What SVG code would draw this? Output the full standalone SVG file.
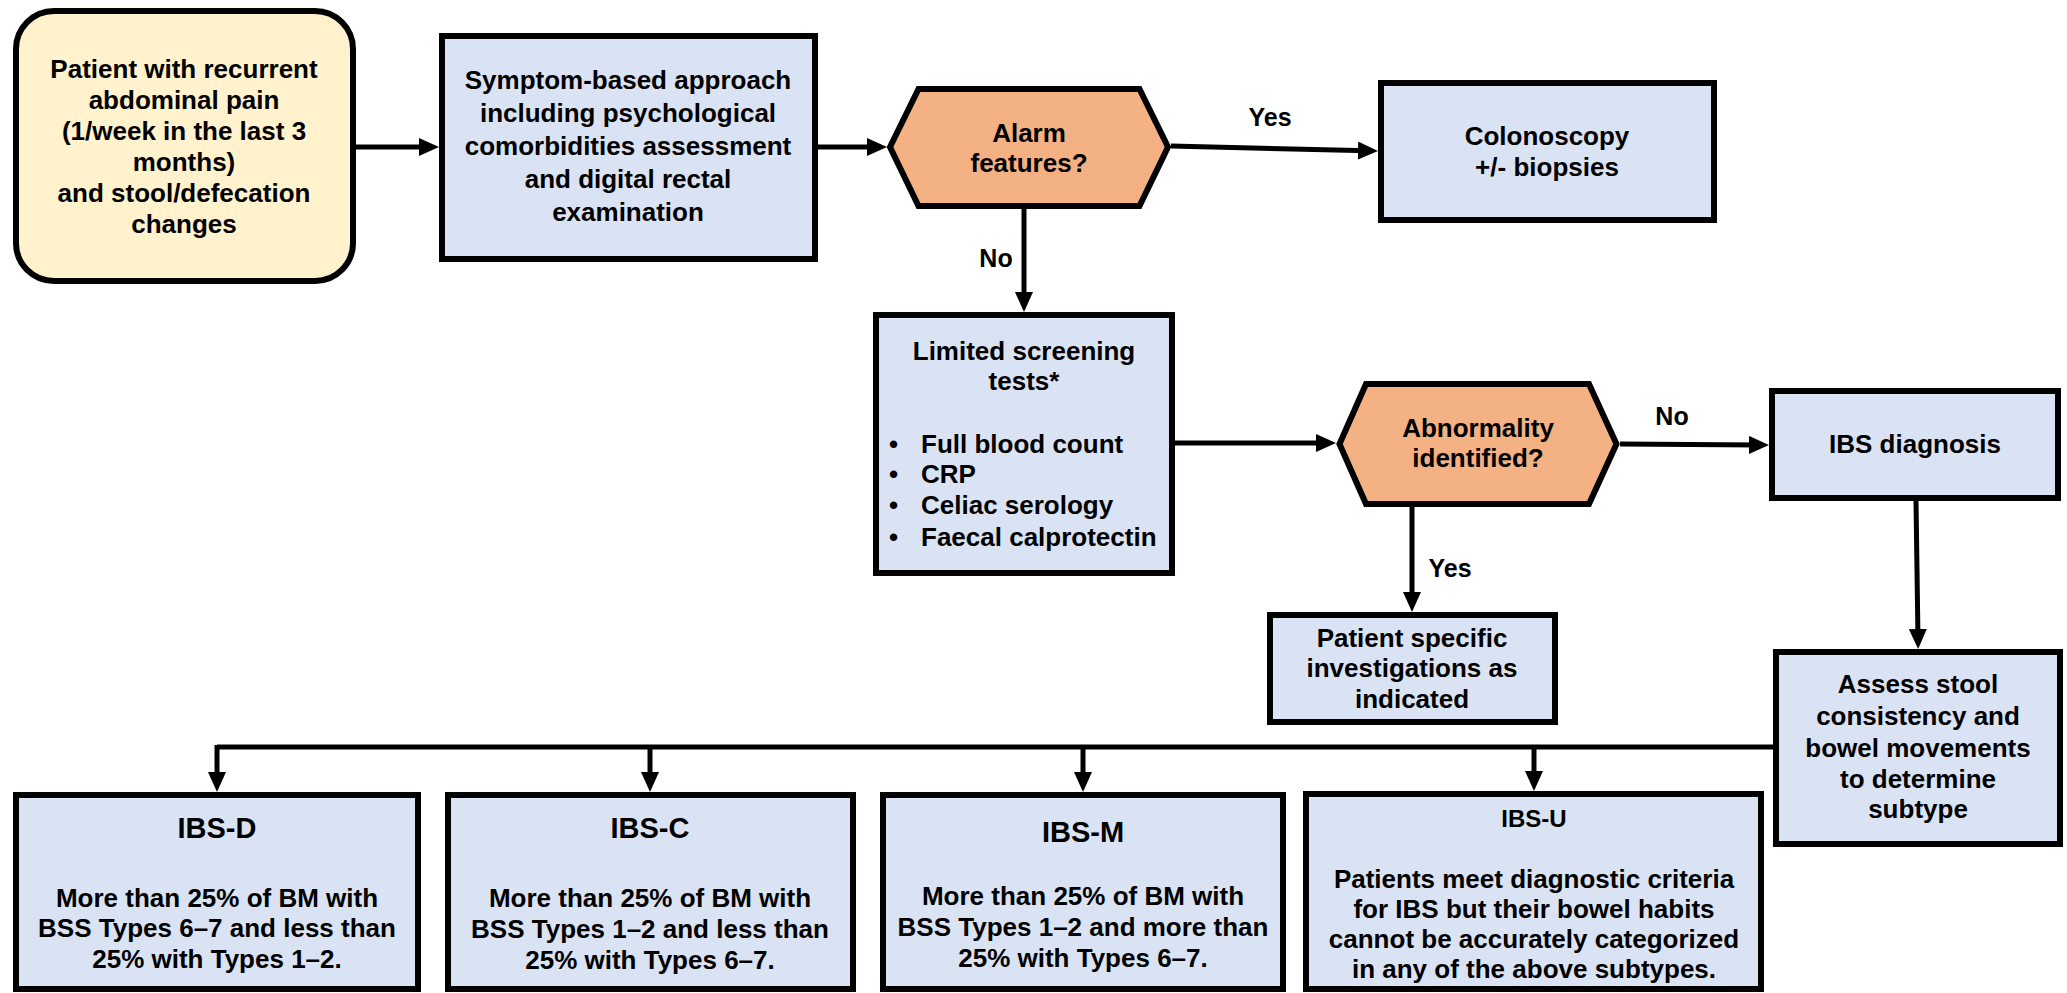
<svg xmlns="http://www.w3.org/2000/svg" width="2067" height="993" viewBox="0 0 2067 993">
<defs>
<marker id="ah" markerUnits="userSpaceOnUse" markerWidth="20" markerHeight="18" refX="10" refY="9" orient="auto">
<path d="M0,0 L20,9 L0,18 z" fill="#000"/>
</marker>
<style>
.box{fill:#DAE3F3;stroke:#000;stroke-width:6}
.start{fill:#FFF2CC;stroke:#000;stroke-width:6}
.dec{fill:#F4B183;stroke:#000;stroke-width:6;stroke-linejoin:miter}
.t{font-family:"Liberation Sans",Arial,sans-serif;font-weight:bold;font-size:26px;fill:#000;text-anchor:middle}
.tl{font-family:"Liberation Sans",Arial,sans-serif;font-weight:bold;font-size:26px;fill:#000}
.h{font-size:29px}
.lab{font-family:"Liberation Sans",Arial,sans-serif;font-weight:bold;font-size:25px;fill:#000;text-anchor:middle}
.c{fill:none;stroke:#000;stroke-width:5}
.ca{fill:none;stroke:#000;stroke-width:5;marker-end:url(#ah)}
</style>
</defs>
<rect width="2067" height="993" fill="#fff"/>

<g id="connectors">
<line class="ca" x1="356" y1="147" x2="429" y2="147"/>
<line class="ca" x1="818" y1="147" x2="877" y2="147"/>
<line class="ca" x1="1171" y1="146" x2="1368" y2="150.8"/>
<line class="ca" x1="1024" y1="209" x2="1024" y2="302"/>
<line class="ca" x1="1175" y1="443" x2="1326" y2="443"/>
<line class="ca" x1="1412" y1="507" x2="1412" y2="602"/>
<line class="ca" x1="1620" y1="444" x2="1759" y2="445"/>
<line class="ca" x1="1916" y1="501" x2="1918" y2="639"/>
<polyline class="c" points="1773,747 217,747"/>
<line class="ca" x1="217" y1="745" x2="217" y2="782"/>
<line class="ca" x1="650" y1="745" x2="650" y2="782"/>
<line class="ca" x1="1083" y1="745" x2="1083" y2="782"/>
<line class="ca" x1="1534" y1="745" x2="1534" y2="781"/>
<text class="lab" x="1270" y="126">Yes</text>
<text class="lab" x="996" y="267">No</text>
<text class="lab" x="1450" y="577">Yes</text>
<text class="lab" x="1672" y="425">No</text>
</g>

<g id="start">
<rect class="start" x="16" y="11" width="337" height="270" rx="38" ry="38"/>
<text class="t" x="184" y="78">Patient with recurrent</text>
<text class="t" x="184" y="109">abdominal pain</text>
<text class="t" x="184" y="140">(1/week in the last 3</text>
<text class="t" x="184" y="171">months)</text>
<text class="t" x="184" y="202">and stool/defecation</text>
<text class="t" x="184" y="233">changes</text>
</g>

<g id="symptom">
<rect class="box" x="442" y="36" width="373" height="223"/>
<text class="t" x="628" y="89">Symptom-based approach</text>
<text class="t" x="628" y="122">including psychological</text>
<text class="t" x="628" y="155">comorbidities assessment</text>
<text class="t" x="628" y="188">and digital rectal</text>
<text class="t" x="628" y="221">examination</text>
</g>

<g id="alarm">
<polygon class="dec" points="890,147 918.5,89 1139.5,89 1168,147 1139.5,206 918.5,206"/>
<text class="t" x="1029" y="142">Alarm</text>
<text class="t" x="1029" y="172">features?</text>
</g>

<g id="colonoscopy">
<rect class="box" x="1381" y="83" width="333" height="137"/>
<text class="t" x="1547" y="145">Colonoscopy</text>
<text class="t" x="1547" y="176">+/- biopsies</text>
</g>

<g id="screening">
<rect class="box" x="876" y="315" width="296" height="258"/>
<text class="t" x="1024" y="360">Limited screening</text>
<text class="t" x="1024" y="390">tests*</text>
<text class="tl" x="889" y="453">•</text>
<text class="tl" x="921" y="453">Full blood count</text>
<text class="tl" x="889" y="483">•</text>
<text class="tl" x="921" y="483">CRP</text>
<text class="tl" x="889" y="514">•</text>
<text class="tl" x="921" y="514">Celiac serology</text>
<text class="tl" x="889" y="546">•</text>
<text class="tl" x="921" y="546">Faecal calprotectin</text>
</g>

<g id="abnormality">
<polygon class="dec" points="1339.5,444 1366,384 1589,384 1616.5,444 1589,504 1366,504"/>
<text class="t" x="1478" y="437">Abnormality</text>
<text class="t" x="1478" y="467">identified?</text>
</g>

<g id="patient-specific">
<rect class="box" x="1270" y="615" width="285" height="107"/>
<text class="t" x="1412" y="647">Patient specific</text>
<text class="t" x="1412" y="677">investigations as</text>
<text class="t" x="1412" y="708">indicated</text>
</g>

<g id="ibs-diagnosis">
<rect class="box" x="1772" y="391" width="286" height="107"/>
<text class="t" x="1915" y="453">IBS diagnosis</text>
</g>

<g id="assess">
<rect class="box" x="1776" y="652" width="284" height="192"/>
<text class="t" x="1918" y="693">Assess stool</text>
<text class="t" x="1918" y="725">consistency and</text>
<text class="t" x="1918" y="757">bowel movements</text>
<text class="t" x="1918" y="788">to determine</text>
<text class="t" x="1918" y="818">subtype</text>
</g>

<g id="ibs-d">
<rect class="box" x="16" y="795" width="402" height="194"/>
<text class="t h" x="217" y="838">IBS-D</text>
<text class="t" x="217" y="907">More than 25% of BM with</text>
<text class="t" x="217" y="937">BSS Types 6–7 and less than</text>
<text class="t" x="217" y="968">25% with Types 1–2.</text>
</g>

<g id="ibs-c">
<rect class="box" x="448" y="795" width="405" height="194"/>
<text class="t h" x="650" y="838">IBS-C</text>
<text class="t" x="650" y="907">More than 25% of BM with</text>
<text class="t" x="650" y="938">BSS Types 1–2 and less than</text>
<text class="t" x="650" y="969">25% with Types 6–7.</text>
</g>

<g id="ibs-m">
<rect class="box" x="883" y="795" width="400" height="194"/>
<text class="t h" x="1083" y="842">IBS-M</text>
<text class="t" x="1083" y="905">More than 25% of BM with</text>
<text class="t" x="1083" y="936">BSS Types 1–2 and more than</text>
<text class="t" x="1083" y="967">25% with Types 6–7.</text>
</g>

<g id="ibs-u">
<rect class="box" x="1306" y="794" width="455" height="195"/>
<text class="t" x="1534" y="827" style="font-size:24px">IBS-U</text>
<text class="t" x="1534" y="888">Patients meet diagnostic criteria</text>
<text class="t" x="1534" y="918">for IBS but their bowel habits</text>
<text class="t" x="1534" y="948">cannot be accurately categorized</text>
<text class="t" x="1534" y="978">in any of the above subtypes.</text>
</g>
</svg>
